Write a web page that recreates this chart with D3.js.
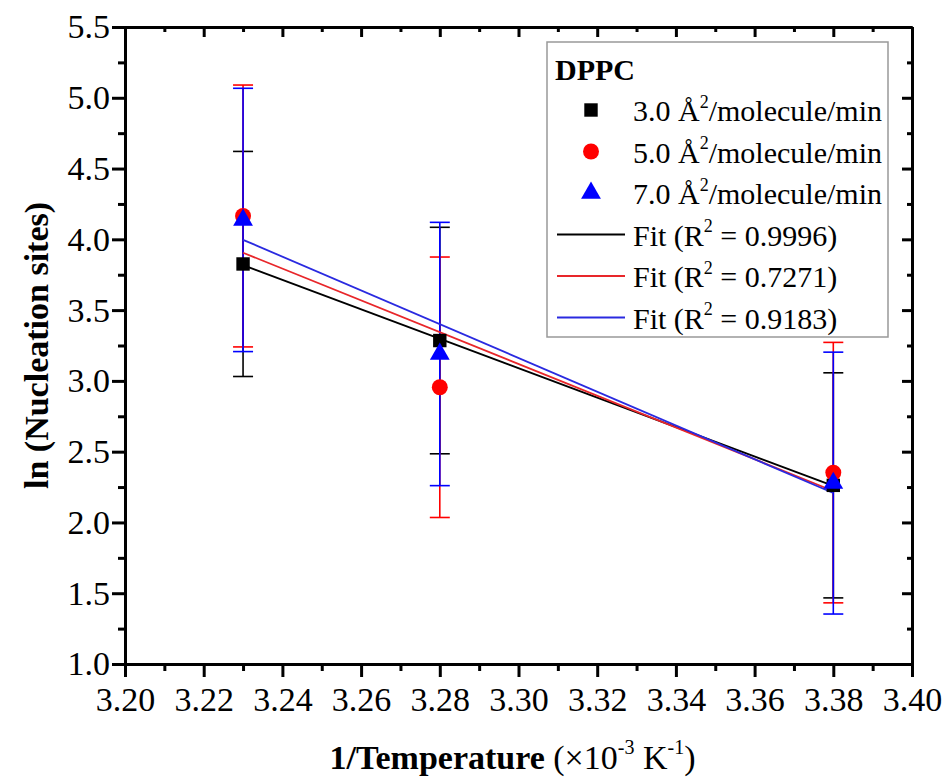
<!DOCTYPE html>
<html>
<head>
<meta charset="utf-8">
<style>
  body{margin:0;background:#fff}
  svg text{font-family:"Liberation Serif","Times New Roman",Times,serif;fill:#000}
  .axis path,.axis line{stroke:#000;stroke-width:3px}
</style>
</head>
<body>
<div id="chart"></div>
<script src="https://d3js.org/d3.v7.min.js"></script>
<script>
// data
var xVals   = [3.23, 3.28, 3.38];
var rate30  = [3.826, 3.285, 2.262];
var err30   = [0.795, 0.80, 0.795];
var rate50  = [4.165, 2.955, 2.352];
var err50   = [0.925, 0.92, 0.92];
var rate70  = [4.137, 3.19, 2.278];
var err70   = [0.93, 0.93, 0.925];
var r2Vals  = ['0.9996', '0.7271', '0.9183'];
var rateLabels = ['3.0', '5.0', '7.0'];
var xTicks  = [3.20, 3.22, 3.24, 3.26, 3.28, 3.30, 3.32, 3.34, 3.36, 3.38, 3.40];
var yTicks  = [1.0, 1.5, 2.0, 2.5, 3.0, 3.5, 4.0, 4.5, 5.0, 5.5];

var FONT = '"Liberation Serif","Times New Roman",Times,serif';

var W = 947, H = 780,
    m = {left: 125, top: 27, right: 35, bottom: 116},
    w = W - m.left - m.right,
    h = H - m.top - m.bottom;

var x = d3.scaleLinear().domain([3.20, 3.40]).range([0, w]);
var y = d3.scaleLinear().domain([1.0, 5.5]).range([h, 0]);

var xMinor = d3.range(3.21, 3.40, 0.02);
var yMinor = d3.range(1.25, 5.5, 0.5);

var svg = d3.select('#chart').append('svg')
  .attr('width', W).attr('height', H)
  .attr('font-family', FONT);
var g = svg.append('g').attr('transform', 'translate(' + m.left + ',' + m.top + ')');

var series = [
  {vals: rate30, errs: err30, color: '#000', fit: '#000', shape: d3.symbolSquare, size: 180},
  {vals: rate50, errs: err50, color: '#ff0000', fit: '#e8262a', shape: d3.symbolCircle, size: 200},
  {vals: rate70, errs: err70, color: '#0000ff', fit: '#2a2ae0', shape: d3.symbolTriangle, size: 170}
];

function fitLine(xs, ys) {
  var mx = d3.mean(xs), my = d3.mean(ys), sxy = 0, sxx = 0;
  xs.forEach(function (v, i) { sxy += (v - mx) * (ys[i] - my); sxx += (v - mx) * (v - mx); });
  var b = sxy / sxx, a = my - b * mx;
  var x0 = d3.min(xs), x1 = d3.max(xs);
  return [[x0, a + b * x0], [x1, a + b * x1]];
}

// error bars
series.forEach(function (s) {
  var eb = g.append('g').attr('stroke', s.color).attr('stroke-width', 1.6);
  xVals.forEach(function (xv, i) {
    var top = y(s.vals[i] + s.errs[i]), bot = y(s.vals[i] - s.errs[i]), cx = x(xv);
    eb.append('line').attr('x1', cx).attr('x2', cx).attr('y1', top).attr('y2', bot);
    eb.append('line').attr('x1', cx - 10).attr('x2', cx + 10).attr('y1', top).attr('y2', top);
    eb.append('line').attr('x1', cx - 10).attr('x2', cx + 10).attr('y1', bot).attr('y2', bot);
  });
});

// fit lines
var line = d3.line().x(function (d) { return x(d[0]); }).y(function (d) { return y(d[1]); });
series.forEach(function (s) {
  g.append('path').attr('d', line(fitLine(xVals, s.vals)))
    .attr('fill', 'none').attr('stroke', s.fit).attr('stroke-width', 1.8);
});

// markers
series.forEach(function (s) {
  g.selectAll(null).data(xVals).enter().append('path')
    .attr('d', d3.symbol().type(s.shape).size(s.size))
    .attr('transform', function (d, i) { return 'translate(' + x(d) + ',' + y(s.vals[i]) + ')'; })
    .attr('fill', s.color);
});

// axes
function noText(sel) { sel.attr('font-family', null); sel.selectAll('text').remove(); }
function serifText(sel) {
  sel.attr('font-family', null).attr('font-size', null);
  sel.selectAll('text').attr('font-family', FONT).style('font-size', '34px');
}
g.append('g').attr('class', 'axis').attr('transform', 'translate(0,' + h + ')')
  .call(d3.axisBottom(x).tickValues(xTicks).tickSize(13).tickPadding(10).tickFormat(d3.format('.2f')))
  .call(serifText);
g.append('g').attr('class', 'axis').attr('transform', 'translate(0,' + h + ')')
  .call(d3.axisBottom(x).tickValues(xMinor).tickSize(7).tickSizeOuter(0)).call(noText);
g.append('g').attr('class', 'axis')
  .call(d3.axisLeft(y).tickValues(yTicks).tickSize(13).tickPadding(2).tickFormat(d3.format('.1f')))
  .call(serifText);
g.append('g').attr('class', 'axis')
  .call(d3.axisLeft(y).tickValues(yMinor).tickSize(7).tickSizeOuter(0)).call(noText);
// top and right frame with inward ticks
g.append('g').attr('class', 'axis')
  .call(d3.axisTop(x).tickValues(xTicks).tickSize(-10).tickSizeOuter(0)).call(noText);
g.append('g').attr('class', 'axis')
  .call(d3.axisTop(x).tickValues(xMinor).tickSize(-5).tickSizeOuter(0)).call(noText);
g.append('g').attr('class', 'axis').attr('transform', 'translate(' + w + ',0)')
  .call(d3.axisRight(y).tickValues(yTicks).tickSize(-10).tickSizeOuter(0)).call(noText);
g.append('g').attr('class', 'axis').attr('transform', 'translate(' + w + ',0)')
  .call(d3.axisRight(y).tickValues(yMinor).tickSize(-5).tickSizeOuter(0)).call(noText);

// superscript helper: raise, then drop back by the same pixel amount
function sup(t, txt, size) {
  t.append('tspan').attr('dy', -size * 0.75).style('font-size', size + 'px').text(txt);
}
function after(t, txt, size) {
  t.append('tspan').attr('dy', size * 0.75).text(txt);
}

// axis titles
var xt = svg.append('text').attr('x', m.left + w / 2 - 6).attr('y', 769)
  .attr('text-anchor', 'middle').style('font-size', '34px');
xt.append('tspan').attr('font-weight', 'bold').text('1/Temperature');
xt.append('tspan').text(' (\u00d710');
sup(xt, '-3', 20);
after(xt, ' K', 20);
sup(xt, '-1', 20);
after(xt, ')', 20);

svg.append('text').attr('transform', 'translate(48,' + (m.top + h / 2) + ') rotate(-90)')
  .attr('text-anchor', 'middle').attr('font-weight', 'bold').style('font-size', '34px')
  .text('ln (Nucleation sites)');

// legend
var lg = svg.append('g').attr('transform', 'translate(547,42)');
lg.append('rect').attr('width', 341).attr('height', 295)
  .attr('fill', '#fff').attr('stroke', '#999').attr('stroke-width', 1.5);
lg.append('text').attr('x', 8).attr('y', 38).attr('font-weight', 'bold')
  .style('font-size', '30px').text('DPPC');
var rowY = function (i) { return 68 + i * 41.5; };
series.forEach(function (s, i) {
  lg.append('path').attr('d', d3.symbol().type(s.shape).size(s.size))
    .attr('transform', 'translate(44,' + rowY(i) + ')').attr('fill', s.color);
  var t = lg.append('text').attr('x', 86).attr('y', rowY(i) + 11).style('font-size', '30px');
  t.append('tspan').text(rateLabels[i] + ' \u00c5');
  sup(t, '2', 18);
  after(t, '/molecule/min', 18);
});
series.forEach(function (s, i) {
  var yy = rowY(i + 3);
  lg.append('line').attr('x1', 10).attr('x2', 78).attr('y1', yy).attr('y2', yy)
    .attr('stroke', s.fit).attr('stroke-width', 1.8);
  var t = lg.append('text').attr('x', 86).attr('y', yy + 11).style('font-size', '30px');
  t.append('tspan').text('Fit (R');
  sup(t, '2', 18);
  after(t, ' = ' + r2Vals[i] + ')', 18);
});
</script>
</body>
</html>
